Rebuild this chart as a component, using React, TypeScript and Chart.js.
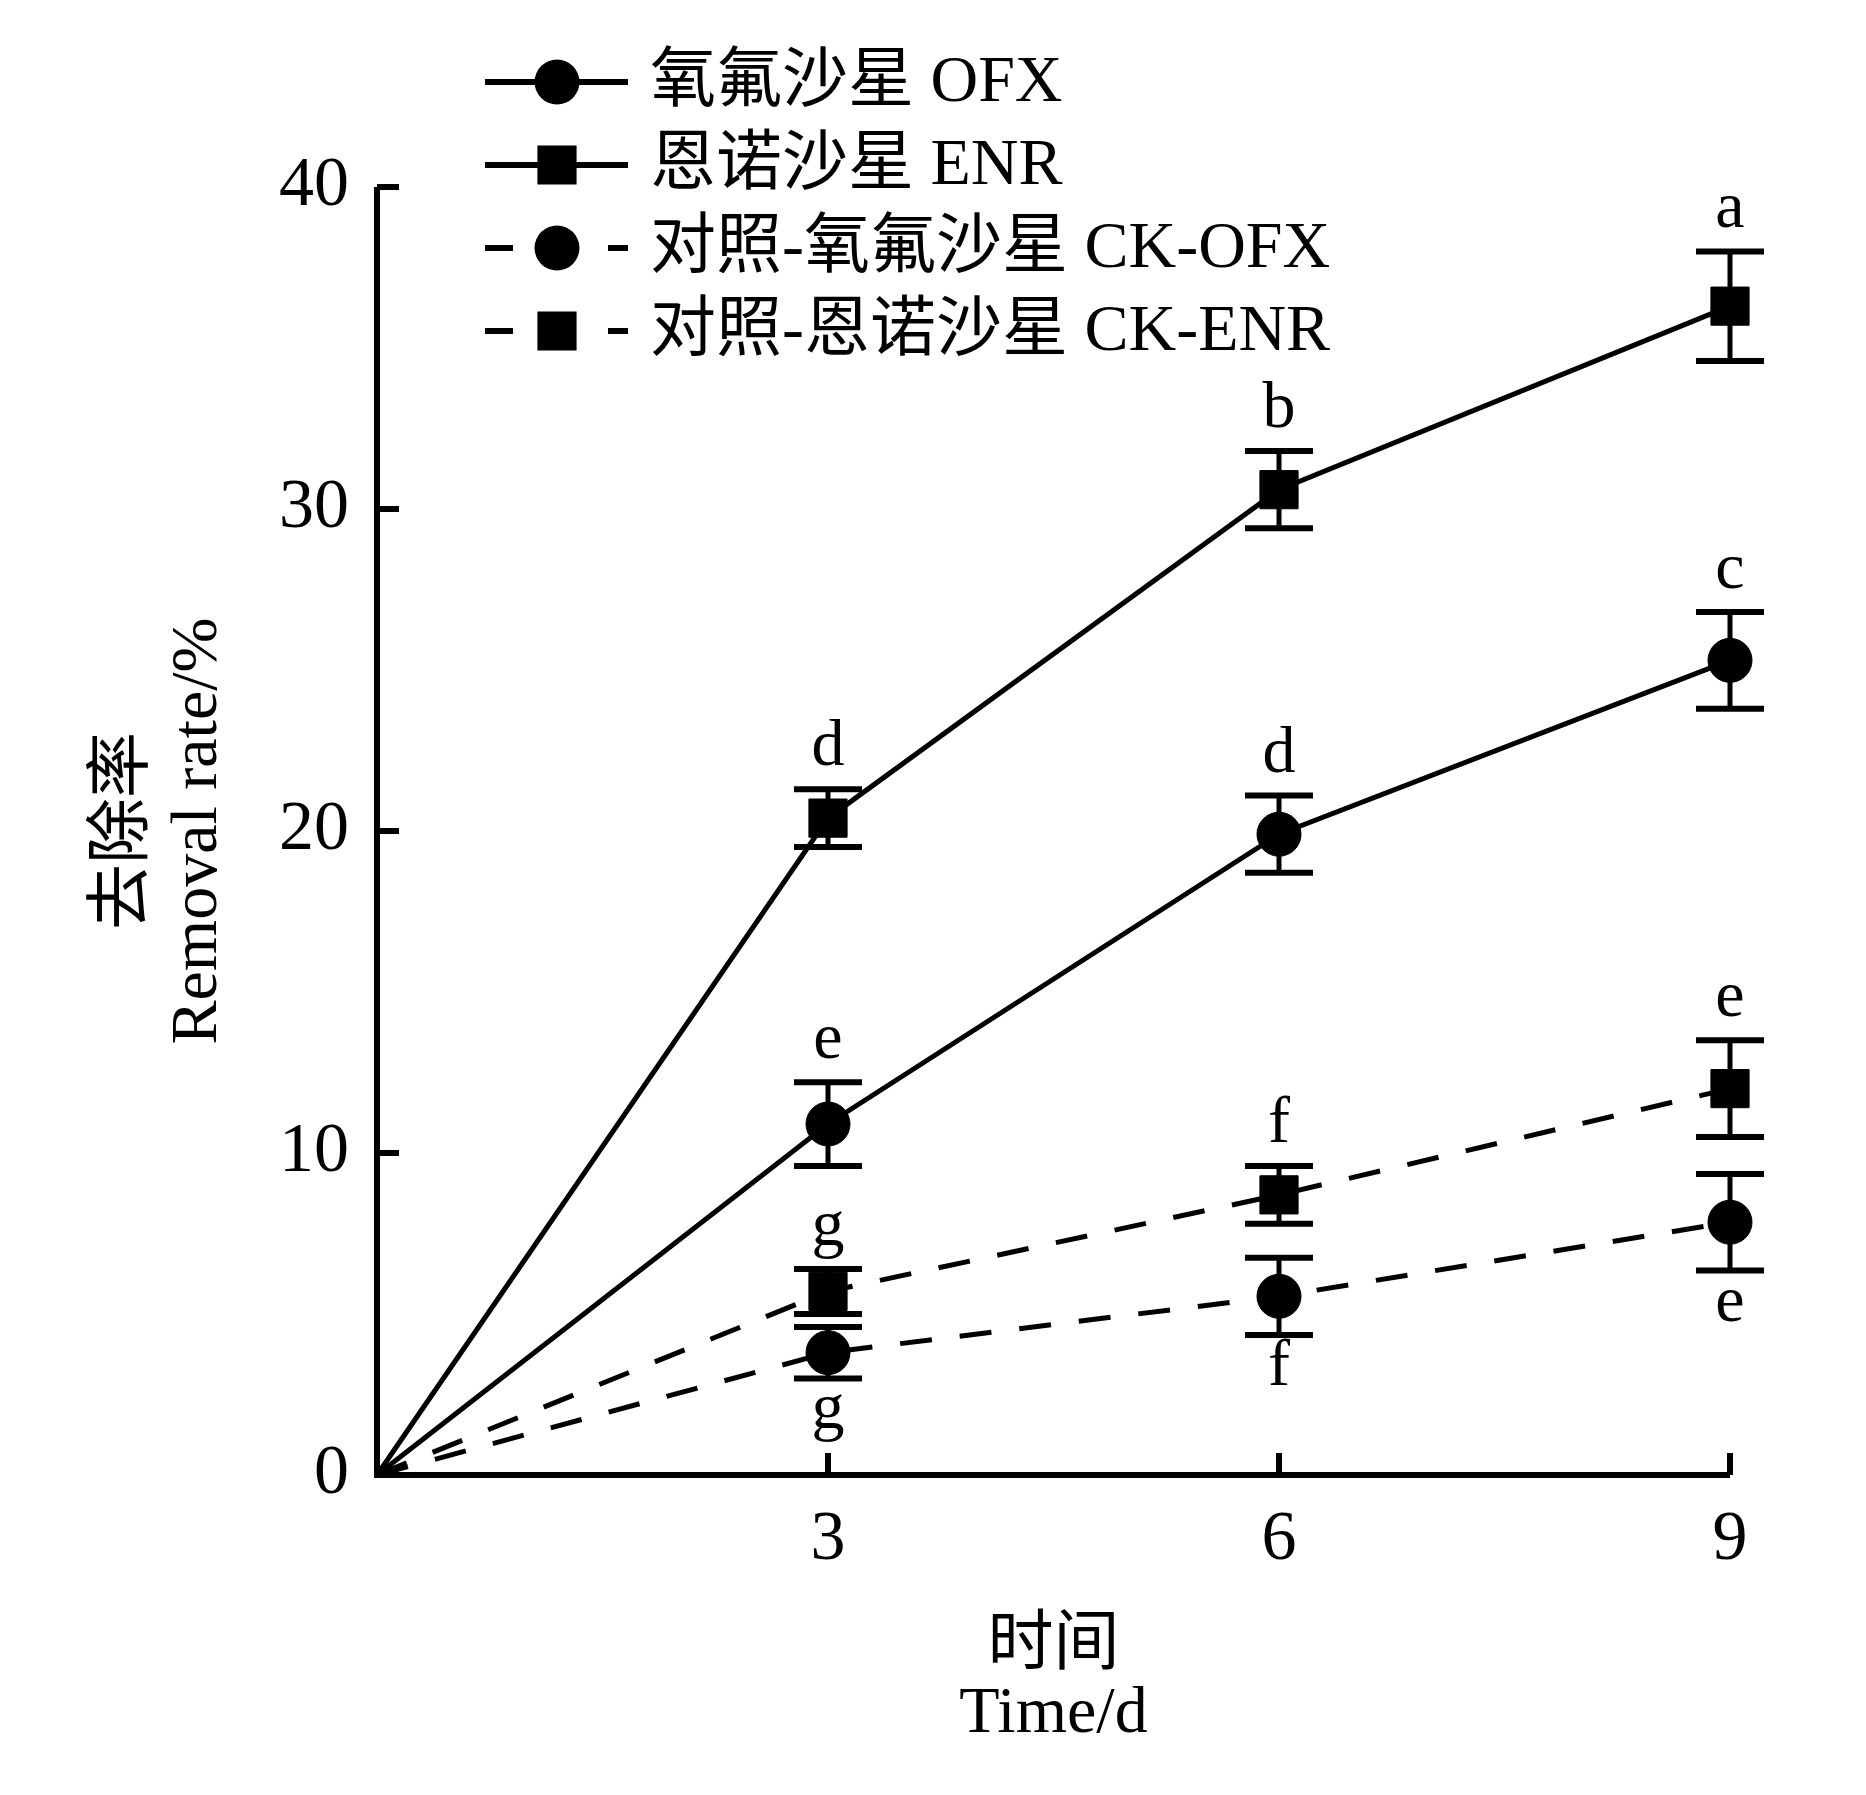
import { useEffect, useRef } from 'react';
import { Chart, registerables } from 'chart.js';

Chart.register(...registerables);

// days of incubation
const days = [0, 3, 6, 9];
const xTickValues = [3, 6, 9];
const yTickValues = [0, 10, 20, 30, 40];

// removal rate (%), error and significance letters
const ofx = [0, 10.9, 19.9, 25.3];
const ofxErr = [0, 1.3, 1.2, 1.5];
const ofxLetters = ['', 'e', 'd', 'c'];

const enr = [0, 20.4, 30.6, 36.3];
const enrErr = [0, 0.9, 1.2, 1.7];
const enrLetters = ['', 'd', 'b', 'a'];

const ckOfx = [0, 3.8, 5.55, 7.85];
const ckOfxErr = [0, 0.8, 1.2, 1.5];
const ckOfxLetters = ['', 'g', 'f', 'e'];

const ckEnr = [0, 5.7, 8.7, 12.0];
const ckEnrErr = [0, 0.7, 0.9, 1.5];
const ckEnrLetters = ['', 'g', 'f', 'e'];

const seriesLabels = ['氧氟沙星 OFX', '恩诺沙星 ENR', '对照-氧氟沙星 CK-OFX', '对照-恩诺沙星 CK-ENR'];

const FONT = '"Liberation Serif", "Times New Roman", "Noto Sans CJK SC", serif';
const CIRCLE_R = 22;
const RECT_R = 27;

type Series = {
  values: number[];
  err: number[];
  letters: string[];
  below: boolean;
  dashed: boolean;
  style: 'circle' | 'rect';
};

const series: Series[] = [
  { values: ofx, err: ofxErr, letters: ofxLetters, below: false, dashed: false, style: 'circle' },
  { values: enr, err: enrErr, letters: enrLetters, below: false, dashed: false, style: 'rect' },
  { values: ckOfx, err: ckOfxErr, letters: ckOfxLetters, below: true, dashed: true, style: 'circle' },
  { values: ckEnr, err: ckEnrErr, letters: ckEnrLetters, below: false, dashed: true, style: 'rect' },
];

function drawMarker(ctx: CanvasRenderingContext2D, style: string, cx: number, cy: number) {
  ctx.beginPath();
  if (style === 'circle') {
    ctx.arc(cx, cy, CIRCLE_R + 0.5, 0, Math.PI * 2);
  } else {
    const h = RECT_R * Math.SQRT1_2 + 0.5;
    ctx.rect(cx - h, cy - h, 2 * h, 2 * h);
  }
  ctx.fill();
}

const framePlugin = {
  id: 'frame',
  afterDatasetsDraw(chart: Chart) {
    const { ctx } = chart;
    const x = chart.scales.x;
    const y = chart.scales.y;
    ctx.save();
    ctx.strokeStyle = '#000';
    ctx.fillStyle = '#000';

    // axes
    const left = x.getPixelForValue(0);
    const right = x.getPixelForValue(9);
    const bottom = y.getPixelForValue(0);
    const top = y.getPixelForValue(40);
    ctx.lineWidth = 6;
    ctx.lineJoin = 'miter';
    ctx.beginPath();
    ctx.moveTo(left, top);
    ctx.lineTo(left, bottom);
    ctx.lineTo(right, bottom);
    ctx.stroke();

    // inward ticks
    ctx.lineWidth = 6;
    yTickValues.forEach((v) => {
      if (v === 0) return;
      const py = y.getPixelForValue(v);
      ctx.beginPath();
      ctx.moveTo(left, py);
      ctx.lineTo(left + 22, py);
      ctx.stroke();
    });
    xTickValues.forEach((v) => {
      const px = x.getPixelForValue(v);
      ctx.beginPath();
      ctx.moveTo(px, bottom);
      ctx.lineTo(px, bottom - 22);
      ctx.stroke();
    });

    // error bars and letters
    ctx.font = `66px ${FONT}`;
    ctx.textAlign = 'center';
    ctx.textBaseline = 'alphabetic';
    series.forEach((s) => {
      days.forEach((d, i) => {
        if (!s.err[i]) return;
        const px = x.getPixelForValue(d);
        const hi = y.getPixelForValue(s.values[i] + s.err[i]);
        const lo = y.getPixelForValue(s.values[i] - s.err[i]);
        ctx.lineWidth = 5;
        ctx.beginPath();
        ctx.moveTo(px, hi);
        ctx.lineTo(px, lo);
        ctx.stroke();
        ctx.lineWidth = 6;
        ctx.beginPath();
        ctx.moveTo(px - 34, hi);
        ctx.lineTo(px + 34, hi);
        ctx.moveTo(px - 34, lo);
        ctx.lineTo(px + 34, lo);
        ctx.stroke();
        if (s.letters[i]) {
          if (s.below) ctx.fillText(s.letters[i], px, lo + 50);
          else ctx.fillText(s.letters[i], px, hi - 24);
        }
      });
    });

    // legend
    ctx.textAlign = 'left';
    ctx.textBaseline = 'middle';
    series.forEach((s, i) => {
      const cy = 82 + i * 83;
      ctx.lineWidth = 6;
      ctx.beginPath();
      if (s.dashed) ctx.setLineDash([28, 95]);
      else ctx.setLineDash([]);
      ctx.moveTo(485, cy);
      ctx.lineTo(628, cy);
      ctx.stroke();
      ctx.setLineDash([]);
      drawMarker(ctx, s.style, 557, cy);
      ctx.fillText(seriesLabels[i], 650, cy + 2);
    });

    ctx.restore();
  },
};

export default function App() {
  const canvasRef = useRef<HTMLCanvasElement | null>(null);
  const chartRef = useRef<Chart | null>(null);

  useEffect(() => {
    document.body.style.margin = '0';
    document.body.style.overflow = 'hidden';
    if (!canvasRef.current) return;
    if (chartRef.current) chartRef.current.destroy();

    chartRef.current = new Chart(canvasRef.current, {
      type: 'line',
      data: {
        datasets: series.map((s, i) => ({
          label: seriesLabels[i],
          data: days.map((d, j) => ({ x: d, y: s.values[j] })),
          borderColor: '#000',
          backgroundColor: '#000',
          borderWidth: 5,
          borderDash: s.dashed ? [32, 28] : [],
          pointStyle: s.style,
          pointRadius: days.map((d) => (d === 0 ? 0 : s.style === 'circle' ? CIRCLE_R : RECT_R)),
          pointBorderWidth: 1,
          pointBorderColor: '#000',
          pointBackgroundColor: '#000',
          tension: 0,
          clip: false,
        })),
      },
      options: {
        responsive: false,
        animation: false,
        devicePixelRatio: 1,
        layout: { padding: { left: 0, right: 136, top: 187, bottom: 0 } },
        plugins: {
          legend: { display: false },
          tooltip: { enabled: false },
        },
        scales: {
          x: {
            type: 'linear',
            min: 0,
            max: 9,
            afterBuildTicks: (scale: any) => {
              scale.ticks = xTickValues.map((v) => ({ value: v }));
            },
            afterFit: (scale: any) => {
              scale.height = 320;
            },
            grid: { display: false, drawTicks: false },
            border: { display: false },
            ticks: {
              color: '#000',
              padding: 24,
              font: { family: FONT, size: 70 },
            },
            title: {
              display: true,
              text: ['时间', 'Time/d'],
              color: '#000',
              font: { family: FONT, size: 66, lineHeight: 1.03 },
              padding: { top: 0, bottom: 46 },
            },
          },
          y: {
            type: 'linear',
            min: 0,
            max: 40,
            afterBuildTicks: (scale: any) => {
              scale.ticks = yTickValues.map((v) => ({ value: v }));
            },
            afterFit: (scale: any) => {
              scale.width = 377;
            },
            grid: { display: false, drawTicks: false },
            border: { display: false },
            ticks: {
              color: '#000',
              padding: 28,
              font: { family: FONT, size: 70 },
            },
            title: {
              display: true,
              text: ['去除率', 'Removal rate/%'],
              color: '#000',
              font: { family: FONT, size: 66, lineHeight: 1.12 },
              padding: { top: 88, bottom: 0 },
            },
          },
        },
      },
      plugins: [framePlugin],
    });

    return () => {
      if (chartRef.current) {
        chartRef.current.destroy();
        chartRef.current = null;
      }
    };
  }, []);

  return (
    <div style={{ width: 1866, height: 1795, background: '#fff' }}>
      <canvas ref={canvasRef} width={1866} height={1795} style={{ width: 1866, height: 1795 }} />
    </div>
  );
}
